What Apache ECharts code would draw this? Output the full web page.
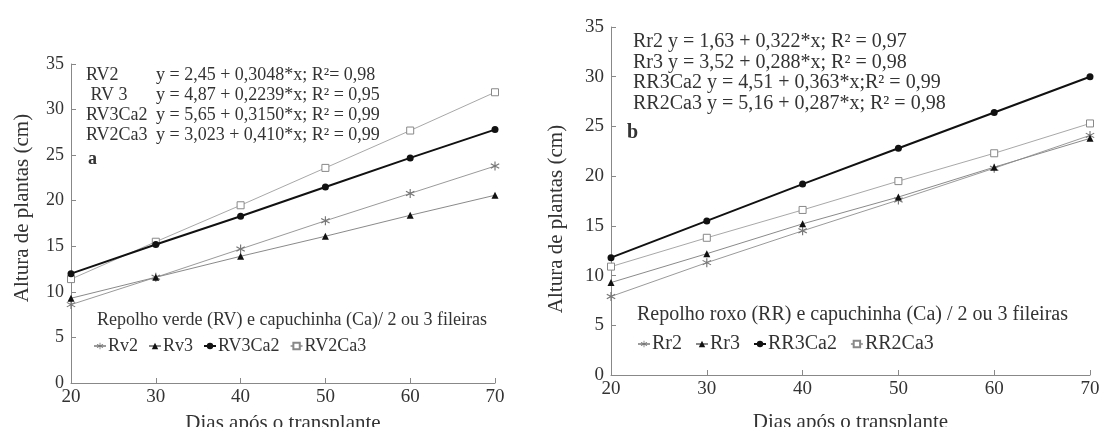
<!DOCTYPE html>
<html>
<head>
<meta charset="utf-8">
<script src="https://cdn.jsdelivr.net/npm/echarts@6/dist/echarts.min.js"></script>
<style>
  html, body { margin: 0; padding: 0; background: #fff; }
  #main { width: 1101px; height: 427px; }
</style>
</head>
<body>
<div id="main"></div>
<script>
// dias após o transplante
var days = [20, 30, 40, 50, 60, 70];
// repolho verde (a)
var rv2    = [8.6, 11.6, 14.7, 17.8, 20.8, 23.8];
var rv3    = [9.3, 11.6, 13.9, 16.1, 18.4, 20.6];
var rv3ca2 = [12.0, 15.2, 18.3, 21.5, 24.7, 27.8];
var rv2ca3 = [11.4, 15.5, 19.5, 23.6, 27.7, 31.9];
// repolho roxo (b)
var rr2    = [7.9, 11.3, 14.5, 17.6, 20.8, 24.1];
var rr3    = [9.3, 12.2, 15.2, 17.9, 20.9, 23.8];
var rr3ca2 = [11.8, 15.5, 19.2, 22.8, 26.4, 30.0];
var rr2ca3 = [10.9, 13.8, 16.6, 19.5, 22.3, 25.3];

var namesA = ['Rv2', 'Rv3', 'RV3Ca2', 'RV2Ca3'];
var namesB = ['Rr2', 'Rr3', 'RR3Ca2', 'RR2Ca3'];
var eqNamesA = ['RV2', ' RV 3', 'RV3Ca2', 'RV2Ca3'];
var eqA = ['y = 2,45 + 0,3048*x; R²= 0,98', 'y = 4,87 + 0,2239*x; R² = 0,95',
           'y = 5,65 + 0,3150*x; R² = 0,99', 'y = 3,023 + 0,410*x; R² = 0,99'];
var eqB = ['Rr2 y = 1,63 + 0,322*x; R² = 0,97', 'Rr3 y = 3,52 + 0,288*x; R² = 0,98',
           'RR3Ca2 y = 4,51 + 0,363*x;R² = 0,99', 'RR2Ca3 y = 5,16 + 0,287*x; R² = 0,98'];
var titleA = 'Repolho verde (RV) e capuchinha (Ca)/ 2 ou 3 fileiras';
var titleB = 'Repolho roxo (RR) e capuchinha (Ca) / 2 ou 3 fileiras';

var FONT = 'Liberation Serif';
var TXT = '#333';
var STAR = 'path://M-0.6,-5L0.6,-5L0.6,5L-0.6,5Z' +
  'M4.03,3.02L-4.63,-1.98L-4.03,-3.02L4.63,1.98Z' +
  'M-4.63,1.98L4.03,-3.02L4.63,-1.98L-4.03,3.02Z';

// estilos das quatro séries
var styles = [
  { symbol: STAR, size: 9, line: '#9a9a9a', mark: '#777', w: 1 },
  { symbol: 'triangle', size: 7, line: '#8a8a8a', mark: '#111', w: 1 },
  { symbol: 'circle', size: 7, line: '#111', mark: '#111', w: 2 },
  { symbol: 'rect', size: 7, line: '#a8a8a8', mark: '#fff', border: '#888', w: 1 }
];

function mkSeries(names, dataList, idx) {
  return dataList.map(function (vals, i) {
    var s = styles[i];
    return {
      name: names[i],
      type: 'line',
      xAxisIndex: idx,
      yAxisIndex: idx,
      data: days.map(function (d, k) { return [d, vals[k]]; }),
      symbol: s.symbol,
      symbolSize: s.size,
      lineStyle: { color: s.line, width: s.w },
      itemStyle: { color: s.mark, borderColor: s.border || s.mark, borderWidth: s.border ? 1 : 0 },
      z: i == 2 ? 5 : 3,
      animation: false
    };
  });
}

function xAx(idx, gap, fs) {
  return {
    gridIndex: idx, type: 'value', min: 20, max: 70, interval: 10,
    name: 'Dias após o transplante', nameLocation: 'middle', nameGap: gap,
    nameTextStyle: { fontFamily: FONT, fontSize: 21, color: TXT },
    axisLine: { lineStyle: { color: '#888' } },
    axisTick: { inside: true, length: 5, lineStyle: { color: '#888' } },
    axisLabel: { fontFamily: FONT, fontSize: fs, color: TXT, margin: 5 },
    splitLine: { show: false }
  };
}
function yAx(idx, fs) {
  return {
    gridIndex: idx, type: 'value', min: 0, max: 35, interval: 5,
    axisLine: { show: true, lineStyle: { color: '#888' } },
    axisTick: { show: true, inside: true, length: 5, lineStyle: { color: '#888' } },
    axisLabel: { fontFamily: FONT, fontSize: fs, color: TXT, margin: 7 },
    splitLine: { show: false }
  };
}

function txt(x, y, s, fs, extra) {
  var st = { text: s, fontFamily: FONT, fontSize: fs, fill: TXT, textVerticalAlign: 'middle' };
  for (var k in extra) st[k] = extra[k];
  return { type: 'text', x: x, y: y, style: st, z: 10 };
}

var graphics = [];
eqNamesA.forEach(function (n, i) {
  graphics.push(txt(86, 75 + i * 20, n, 18));
  graphics.push(txt(156, 75 + i * 20, eqA[i], 18));
});
eqB.forEach(function (e, i) { graphics.push(txt(633, 42 + i * 20.5, e, 20)); });
graphics.push(txt(88, 159, 'a', 18, { fontWeight: 'bold' }));
graphics.push(txt(627, 133, 'b', 20, { fontWeight: 'bold' }));
graphics.push(txt(97, 320, titleA, 18));
graphics.push(txt(637, 315, titleB, 20));
// nomes dos eixos y
graphics.push({ type: 'text', x: 22, y: 208, rotation: Math.PI / 2,
  style: { text: 'Altura de plantas (cm)', fontFamily: FONT, fontSize: 21, fill: TXT, textAlign: 'center', textVerticalAlign: 'middle' } });
graphics.push({ type: 'text', x: 556, y: 219, rotation: Math.PI / 2,
  style: { text: 'Altura de plantas (cm)', fontFamily: FONT, fontSize: 21, fill: TXT, textAlign: 'center', textVerticalAlign: 'middle' } });

function legendAt(names, left, top, fs, gap) {
  return {
    data: names, left: left, top: top,
    orient: 'horizontal', itemWidth: 12, itemHeight: 8, itemGap: gap,
    textStyle: { fontFamily: FONT, fontSize: fs, color: TXT, padding: [0, 0, 0, -3] }
  };
}

var chart = echarts.init(document.getElementById('main'));
chart.setOption({
  backgroundColor: '#fff',
  animation: false,
  grid: [
    { left: 71, right: 606, top: 64, bottom: 44, outerBoundsMode: 'none' },
    { left: 611, right: 11, top: 27, bottom: 52, outerBoundsMode: 'none' }
  ],
  xAxis: [xAx(0, 30, 19), xAx(1, 37, 19)],
  yAxis: [yAx(0, 18), yAx(1, 19)],
  legend: [
    legendAt(namesA, 88, 332, 18, 10),
    legendAt(namesB, 632, 329, 20, 13)
  ],
  graphic: graphics,
  series: mkSeries(namesA, [rv2, rv3, rv3ca2, rv2ca3], 0)
    .concat(mkSeries(namesB, [rr2, rr3, rr3ca2, rr2ca3], 1))
});
</script>
</body>
</html>
